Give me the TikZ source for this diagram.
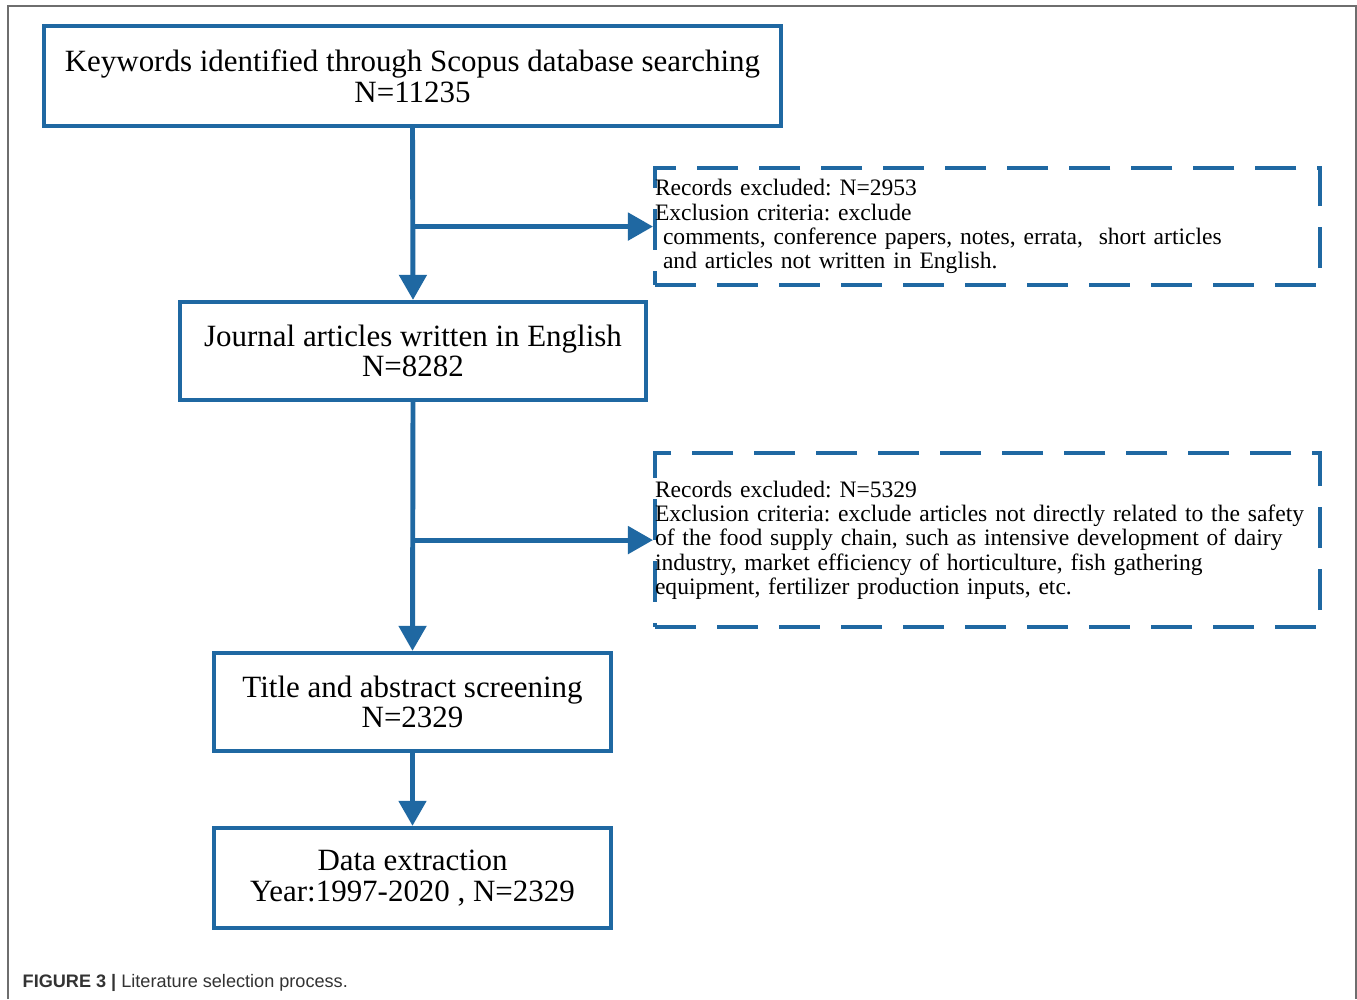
\documentclass[tikz,border=0pt]{standalone}
\usepackage{fontspec}
\setmainfont{Liberation Serif}
\newfontfamily\capfont{Liberation Sans}
\usetikzlibrary{arrows.meta}
\definecolor{flowblue}{RGB}{31,104,162}
\definecolor{framegray}{RGB}{110,110,110}
\frenchspacing
\begin{document}
\begin{tikzpicture}[x=0.01cm,y=-0.01cm,
  mainbox/.style={draw=flowblue,line width=1.2pt,inner sep=0pt,align=center,
    font=\fontsize{8.8pt}{8.7pt}\selectfont},
  exbox/.style={draw=flowblue,line width=1.15pt,dash pattern=on 0.41cm off 0.21cm,
    inner xsep=0pt,inner ysep=0pt,align=left,text width=6.65cm,
    font=\fontsize{6.7pt}{6.9pt}\selectfont},
  flow/.style={draw=flowblue,line width=1.4pt,-{Triangle[length=0.25cm,width=0.27cm]}}]
\useasboundingbox (0,0) rectangle (1357,999);
\fill[white] (0,0) rectangle (1357,999);
\draw[framegray,line width=0.6pt] (8,999) -- (8,6) -- (1356,6) -- (1356,999);

\node[mainbox,minimum width=7.37cm,minimum height=1.0cm] (b1) at (412.5,76)
  {Keywords identified through Scopus database searching\\N=11235};
\node[mainbox,minimum width=4.66cm,minimum height=0.98cm] (b2) at (413,351)
  {Journal articles written in English\\N=8282};
\node[mainbox,minimum width=3.97cm,minimum height=0.98cm] (b3) at (412.5,702)
  {Title and abstract screening\\N=2329};
\node[mainbox,minimum width=3.97cm,minimum height=1.0cm] (b4) at (412.5,878)
  {Data extraction\\Year:1997-2020 , N=2329};

\node[exbox,minimum height=1.17cm,anchor=north west] (exA) at (653,166)
  {Records excluded: N=2953\\
   Exclusion criteria: exclude\\
   \hspace*{0.08cm}comments, conference papers, notes, errata,\ \ short articles\\
   \hspace*{0.08cm}and articles not written in English.};
\node[exbox,minimum height=1.74cm,anchor=north west] (exB) at (653,451)
  {Records excluded: N=5329\\
   Exclusion criteria: exclude articles not directly related to the safety\\
   of the food supply chain, such as intensive development of dairy\\
   industry, market efficiency of horticulture, fish gathering\\
   equipment, fertilizer production inputs, etc.};

\draw[flow] (b1.south) -- (b2.north);
\draw[flow] (b1.south |- exA.west) -- (exA.west);
\draw[flow] (b2.south) -- (b3.north);
\draw[flow] (b2.south |- exB.west) -- (exB.west);
\draw[flow] (b3.south) -- (b4.north);

\node[anchor=base west,inner sep=0pt,font=\capfont\fontsize{5.15pt}{6pt}\selectfont,text=black!80] (cap) at (22,987)
  {\textbf{FIGURE 3 |} Literature selection process.};
\end{tikzpicture}
\end{document}
